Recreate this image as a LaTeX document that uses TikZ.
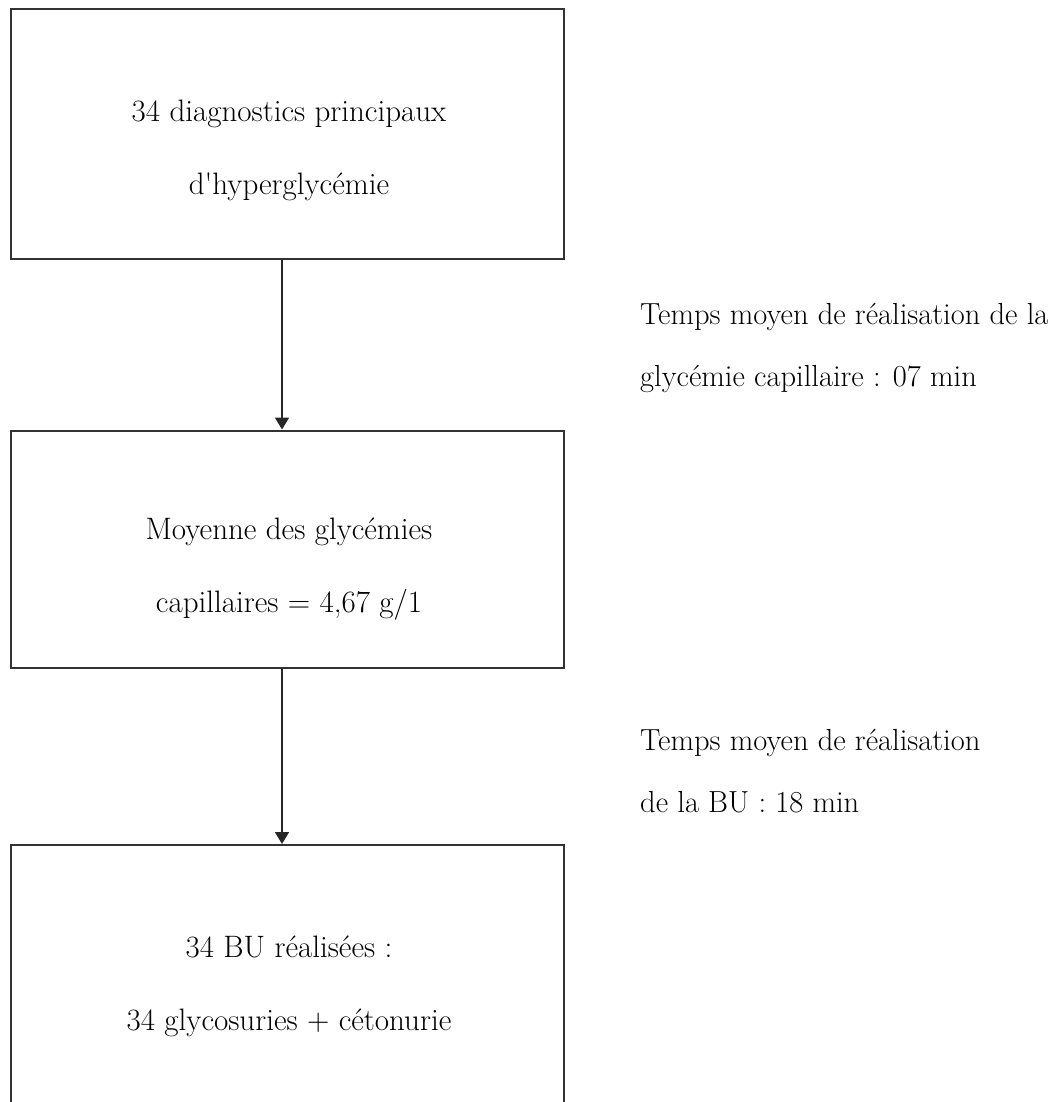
\documentclass[tikz,border=0pt]{standalone}
\usepackage{fontspec}
\usetikzlibrary{arrows.meta}
\begin{document}
\begin{tikzpicture}[x=1pt,y=-1pt,
  box/.style={draw=black!80, line width=2pt, minimum width=553pt, inner sep=0pt},
  boxtext/.style={align=center, inner sep=0pt, font=\fontsize{31}{73}\selectfont},
  note/.style={align=left, inner sep=0pt, anchor=west, font=\fontsize{30.5}{62}\selectfont},
  arr/.style={draw=black!85, line width=1.8pt, -{Triangle[width=14pt,length=12pt]}}]
\useasboundingbox (0,0) rectangle (1063,1102);
\node[box, minimum height=250pt] (b1) at (287.5,134) {};
\node[box, minimum height=237pt] (b2) at (287.5,549) {};
\node[box, minimum height=265pt] (b3) at (287.5,977.5) {};
\node[boxtext] (t1) at (289,150) {34 diagnostics principaux\\d\textquotesingle hyperglycémie};
\node[boxtext] (t2) at (289,569) {Moyenne des glycémies\\capillaires = 4,67 g/1};
\node[boxtext] (t3) at (289,986) {34 BU réalisées :\\34 glycosuries + cétonurie};
\node[note] (n1) at (640,348) {Temps moyen de réalisation de la\\glycémie capillaire : 07 min};
\node[note] (n2) at (640,771) {Temps moyen de réalisation\\de la BU : 18 min};
\draw[arr] ([xshift=-5.5pt]b1.south) -- ([xshift=-5.5pt]b2.north);
\draw[arr] ([xshift=-5.5pt]b2.south) -- ([xshift=-5.5pt]b3.north);
\end{tikzpicture}
\end{document}
